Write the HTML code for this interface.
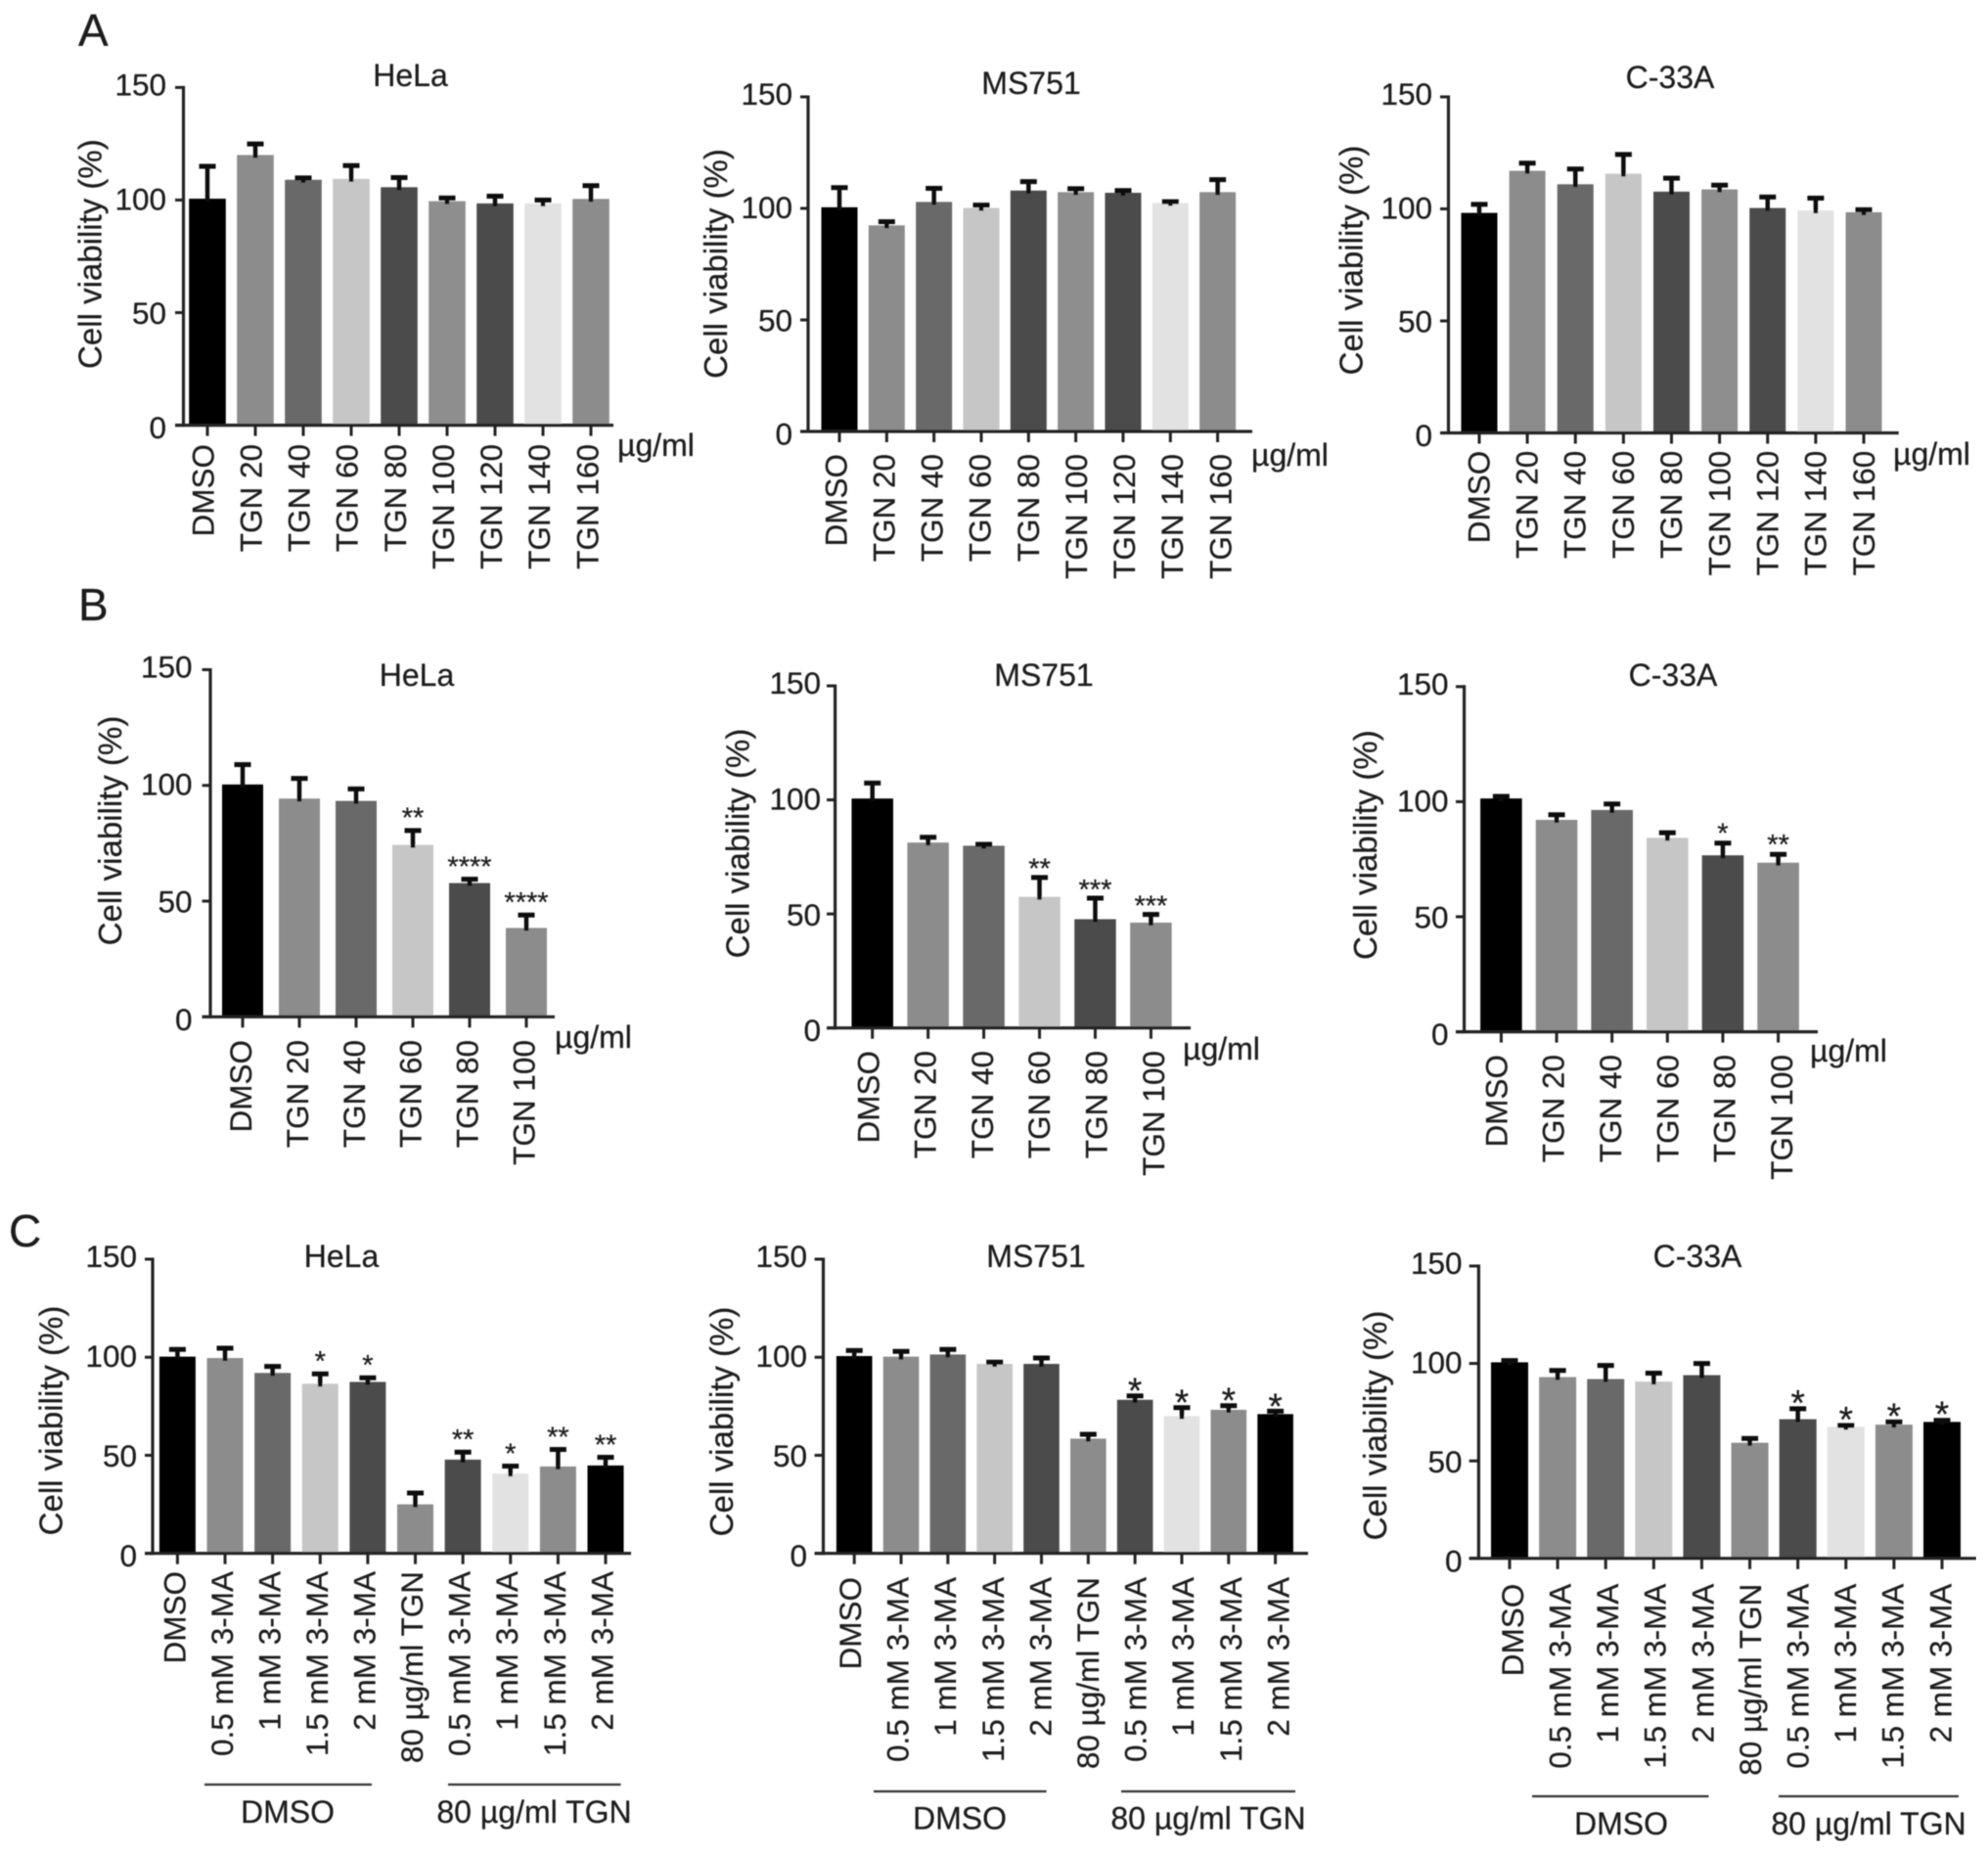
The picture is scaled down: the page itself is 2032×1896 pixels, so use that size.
<!DOCTYPE html>
<html lang="en">
<head>
<meta charset="utf-8">
<title>Cell viability panels</title>
<style>
html,body{margin:0;padding:0;background:#fff;}
body{width:2032px;height:1896px;overflow:hidden;}
svg{display:block;}
text{font-family:"Liberation Sans",Arial,sans-serif;fill:#1e1e1e;stroke:#1e1e1e;stroke-width:0.25px;}
</style>
</head>
<body>
<svg id="figure" xmlns="http://www.w3.org/2000/svg" width="2032" height="1896" viewBox="0 0 2032 1896">
  <defs><filter id="soft" x="0" y="0" width="100%" height="100%"><feGaussianBlur stdDeviation="0.6"/></filter></defs>
  <rect x="0" y="0" width="2032" height="1896" fill="#ffffff"/>
  <g id="root" filter="url(#soft)">
    <text x="80" y="47" font-size="46">A</text>
    <text x="80" y="634" font-size="46">B</text>
    <text x="9" y="1274" font-size="46">C</text>
  </g>
</svg>
<script>
// ---- shared categories and ticks ----
const yTickValues = [0, 50, 100, 150];
const yAxisMax = 150;
const categoriesA = ['DMSO','TGN 20','TGN 40','TGN 60','TGN 80','TGN 100','TGN 120','TGN 140','TGN 160'];
const categoriesB = ['DMSO','TGN 20','TGN 40','TGN 60','TGN 80','TGN 100'];
const categoriesC = ['DMSO','0.5 mM 3-MA','1 mM 3-MA','1.5 mM 3-MA','2 mM 3-MA','80 µg/ml TGN','0.5 mM 3-MA','1 mM 3-MA','1.5 mM 3-MA','2 mM 3-MA'];
const shadesA = ['#000000','#8c8c8c','#696969','#c6c6c6','#4c4c4c','#8e8e8e','#4c4c4c','#e2e2e2','#8c8c8c'];
const shadesB = ['#000000','#8c8c8c','#696969','#c6c6c6','#4c4c4c','#8c8c8c'];
const shadesC = ['#000000','#8c8c8c','#696969','#c6c6c6','#4c4c4c','#8c8c8c','#4c4c4c','#e2e2e2','#8c8c8c','#000000'];

// ---- panel A ----
const aHelaValues = [100.6,120,109,109.4,105.7,99.5,98.5,98.5,100.5];
const aHelaUpper  = [115,124.9,109.8,115.3,110,100.9,101.7,100,106.4];
const aMsValues   = [100.5,92.4,102.9,100.2,108,107.3,107,102.4,107.3];
const aMsUpper    = [109.3,94,109,101.5,112,108.8,108,103,112.9];
const aC33Values  = [98.2,117,111,115.7,107.7,108.7,100.4,99.3,98.5];
const aC33Upper   = [102,120.4,117.8,124.3,113.7,110.6,105.3,104.8,99.6];

// ---- panel B ----
const bHelaValues = [100.4,94.3,93.3,74.3,57.8,38.4];
const bHelaUpper  = [109,103,98.5,80.5,59.5,44];
const bHelaStars  = ['','','','**','****','****'];
const bMsValues   = [100.6,81.3,79.9,57.5,47.7,46.2];
const bMsUpper    = [107.4,83.6,80.5,66,56.9,49.8];
const bMsStars    = ['','','','**','***','***'];
const bC33Values  = [101.4,92.1,96.4,84.3,76.7,73.5];
const bC33Upper   = [102.3,94.3,99,86.5,82,77.1];
const bC33Stars   = ['','','','','*','**'];

// ---- panel C ----
const cHelaValues = [100.3,99.6,92,86.5,87.4,25,47.8,40.7,44.3,44.8];
const cHelaUpper  = [104,104.6,95.3,91.5,89.5,30.8,51.6,44.5,53,49];
const cHelaStars  = ['','','','*','*','','**','*','**','**'];
const cMsValues   = [100.6,100.3,101.4,96.6,96.6,58.5,78.3,70,73.2,71];
const cMsUpper    = [103.4,103,104,97.5,99.6,60.7,80.3,74.3,75.3,72.5];
const cMsStars    = ['','','','','','','*','*','*','*'];
const cC33Values  = [100.6,93,92,90.7,94,59.3,71.4,67.5,68.6,70];
const cC33Upper   = [101.5,96.4,99,95,100,61.5,76.8,68.2,70,70.8];
const cC33Stars   = ['','','','','','','*','*','*','*'];

const FONT = 31.5;
const SVGNS = 'http://www.w3.org/2000/svg';
const root = document.getElementById('root');

function shape(parent, tag, props, content) {
  const node = document.createElementNS(SVGNS, tag);
  for (const k in props) node.setAttribute(k, props[k]);
  if (content !== undefined) node.textContent = content;
  parent.appendChild(node);
  return node;
}

const panels = [
  {id:'a-hela', title:'HeLa', cats:categoriesA, vals:aHelaValues, upper:aHelaUpper, shades:shadesA,
   ax:187.5, y0:434.6, y150:89.4, xFirst:212, xLast:604, barW:37.6, axL:179, axR:627, labTop:454, labFirst:207, labLast:600,
   unitX:631, unitY:466, titleX:419.5, titleY:88, yTitleX:103.6, yTitleY:259.6, tickR:170},
  {id:'a-ms751', title:'MS751', cats:categoriesA, vals:aMsValues, upper:aMsUpper, shades:shadesA,
   ax:826, y0:441, y150:99, xFirst:858, xLast:1244.6, barW:37, axL:818, axR:1280, labTop:464, labFirst:854, labLast:1247,
   unitX:1279, unitY:476, titleX:1054, titleY:96, yTitleX:743, yTitleY:269.5, tickR:810},
  {id:'a-c33a', title:'C-33A', cats:categoriesA, vals:aC33Values, upper:aC33Upper, shades:shadesA,
   ax:1480.5, y0:442.5, y150:99, xFirst:1512, xLast:1905, barW:37, axL:1472, axR:1940.7, labTop:460.7, labFirst:1511, labLast:1904.6,
   unitX:1935, unitY:475, titleX:1707, titleY:90, yTitleX:1392.5, yTitleY:266, tickR:1464},
  {id:'b-hela', title:'HeLa', cats:categoriesB, vals:bHelaValues, upper:bHelaUpper, stars:bHelaStars, shades:shadesB,
   ax:215, y0:1039.3, y150:684.5, xFirst:248, xLast:538, barW:42, axL:206.6, axR:567, labTop:1063, labFirst:245.7, labLast:535,
   unitX:567, unitY:1071, titleX:426, titleY:701, yTitleX:124, yTitleY:849, tickR:196.5, starGap:20, starFs:29},
  {id:'b-ms751', title:'MS751', cats:categoriesB, vals:bMsValues, upper:bMsUpper, stars:bMsStars, shades:shadesB,
   ax:853.6, y0:1050.7, y150:701, xFirst:891.7, xLast:1176.4, barW:42.5, axL:845, axR:1217, labTop:1074, labFirst:887, labLast:1178.5,
   unitX:1209, unitY:1083, titleX:1067, titleY:701, yTitleX:765.5, yTitleY:862, tickR:839, starGap:16, starFs:29},
  {id:'b-c33a', title:'C-33A', cats:categoriesB, vals:bC33Values, upper:bC33Upper, stars:bC33Stars, shades:shadesB,
   ax:1496.6, y0:1054.6, y150:701.8, xFirst:1534.4, xLast:1817.6, barW:42.6, axL:1488, axR:1858, labTop:1078, labFirst:1529, labLast:1820.6,
   unitX:1850, unitY:1085, titleX:1710, titleY:701, yTitleX:1407, yTitleY:863.6, tickR:1480.5, starGap:17, starFs:29},
  {id:'c-hela', title:'HeLa', cats:categoriesC, vals:cHelaValues, upper:cHelaUpper, stars:cHelaStars, shades:shadesC,
   ax:156, y0:1587.7, y150:1287, xFirst:181.4, xLast:619, barW:37, axL:148, axR:645, labTop:1606, labFirst:178, labLast:615,
   titleX:349, titleY:1295, yTitleX:63.6, yTitleY:1452, tickR:140, starGap:20, starFs:29,
   groupY:1824, groupTextY:1863,
   g1:{x1:209, x2:380, tx:294, label:'DMSO'}, g2:{x1:458, x2:634.5, tx:546, label:'80 µg/ml TGN'}},
  {id:'c-ms751', title:'MS751', cats:categoriesC, vals:cMsValues, upper:cMsUpper, stars:cMsStars, shades:shadesC,
   ax:841.5, y0:1587.7, y150:1287, xFirst:873.2, xLast:1303.6, barW:36.6, axL:832.6, axR:1337, labTop:1612, labFirst:868.7, labLast:1306,
   titleX:1059, titleY:1295, yTitleX:749, yTitleY:1453, tickR:825, starGap:14, starFs:37,
   groupY:1831, groupTextY:1869.6,
   g1:{x1:893, x2:1069.6, tx:981, label:'DMSO'}, g2:{x1:1146, x2:1324, tx:1235, label:'80 µg/ml TGN'}},
  {id:'c-c33a', title:'C-33A', cats:categoriesC, vals:cC33Values, upper:cC33Upper, stars:cC33Stars, shades:shadesC,
   ax:1511.4, y0:1592.8, y150:1294, xFirst:1543, xLast:1985, barW:38, axL:1501.7, axR:2020, labTop:1618.7, labFirst:1545.6, labLast:1983,
   titleX:1735, titleY:1295, yTitleX:1417, yTitleY:1457, tickR:1494.5, starGap:15, starFs:37,
   groupY:1836, groupTextY:1875,
   g1:{x1:1566, x2:1746.5, tx:1657, label:'DMSO'}, g2:{x1:1818, x2:2002, tx:1910, label:'80 µg/ml TGN'}}
];

function drawPanel(p) {
  const g = shape(root, 'g', {});
  
  

  const n = p.cats.length;
  const yScale = v => p.y0 - v * (p.y0 - p.y150) / yAxisMax;
  const xScale = i => p.xFirst + i * (p.xLast - p.xFirst) / (n - 1);
  const labelX = i => p.labFirst + i * (p.labLast - p.labFirst) / (n - 1);
  // the original's tick labels drift from +2.5px at the axis origin to -3px at the top
  const tickLabelShift = t => 2.5 - 5.5 * t / yAxisMax;

  // bars
  p.vals.forEach((v, i) => {
    const bar = shape(g, 'rect', {x: xScale(i) - p.barW / 2, y: yScale(v), width: p.barW, height: p.y0 - yScale(v), fill: p.shades[i]});
    
    
  });

  // error bars
  p.upper.forEach((u, i) => {
    const cx = xScale(i);
    const stem = shape(g, 'line', {x1: cx, x2: cx, y1: yScale(p.vals[i]) + 3, y2: yScale(u), stroke: '#111', 'stroke-width': 4.5});
    
    
    const cap = shape(g, 'line', {x1: cx - 8.5, x2: cx + 8.5, y1: yScale(u), y2: yScale(u), stroke: '#111', 'stroke-width': 5});
    
    
  });

  // significance stars
  if (p.stars) {
    p.stars.forEach((s, i) => {
      if (!s) return;
      const star = shape(g, 'text', {x: xScale(i), y: yScale(p.upper[i]) - p.starGap + 0.58 * p.starFs, 'font-size': p.starFs, 'text-anchor': 'middle'}, s);
      
      
    });
  }

  // axes
  const yAxis = shape(g, 'line', {x1: p.ax, x2: p.ax, y1: p.y150 - 1.5, y2: p.y0 + 1.5, stroke: '#222', 'stroke-width': 3.2});
  
  
  const xAxis = shape(g, 'line', {x1: p.axL, x2: p.axR, y1: p.y0, y2: p.y0, stroke: '#222', 'stroke-width': 3.2});
  
  

  yTickValues.forEach(t => {
    const tick = shape(g, 'line', {x1: p.axL, x2: p.ax, y1: yScale(t), y2: yScale(t), stroke: '#222', 'stroke-width': 3});
    
    
    const lab = shape(g, 'text', {x: p.tickR, y: yScale(t) + 0.35 * FONT + tickLabelShift(t), 'font-size': FONT, 'text-anchor': 'end'}, String(t));
    
    
  });

  p.cats.forEach((c, i) => {
    const cx = xScale(i);
    const tick = shape(g, 'line', {x1: cx, x2: cx, y1: p.y0, y2: p.y0 + 11, stroke: '#222', 'stroke-width': 3});
    
    
    const bx = labelX(i) + 0.36 * FONT;
    const lab = shape(g, 'text', {x: bx, y: p.labTop, 'font-size': FONT, 'text-anchor': 'end', transform: 'rotate(-90 ' + bx + ' ' + p.labTop + ')'}, c);
    
    
  });

  // titles
  const title = shape(g, 'text', {x: p.titleX, y: p.titleY, 'font-size': 32, 'text-anchor': 'middle'}, p.title);
  
  
  const yTitle = shape(g, 'text', {x: p.yTitleX, y: p.yTitleY, 'font-size': 33, 'text-anchor': 'middle', transform: 'rotate(-90 ' + p.yTitleX + ' ' + p.yTitleY + ')'}, 'Cell viability (%)');
  
  

  if (p.unitX !== undefined) {
    const unit = shape(g, 'text', {x: p.unitX, y: p.unitY, 'font-size': 32}, 'µg/ml');
    
    
  }

  // treatment group brackets
  if (p.g1) {
    [p.g1, p.g2].forEach(gr => {
      const rule = shape(g, 'line', {x1: gr.x1, x2: gr.x2, y1: p.groupY, y2: p.groupY, stroke: '#333', 'stroke-width': 2.2});
      
      
      const lab = shape(g, 'text', {x: gr.tx, y: p.groupTextY, 'font-size': 32, 'text-anchor': 'middle'}, gr.label);
      
      
    });
  }
}

panels.forEach(drawPanel);
</script>
</body>
</html>
